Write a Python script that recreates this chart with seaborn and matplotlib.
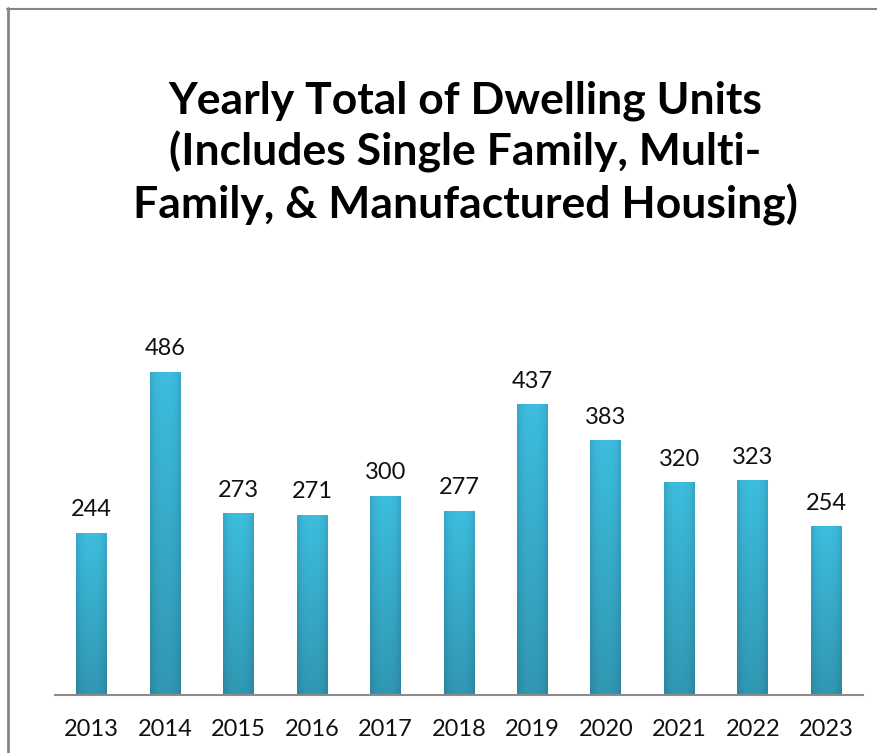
import numpy as np
import pandas as pd
import matplotlib
matplotlib.use("Agg")
import matplotlib.pyplot as plt
import seaborn as sns
from matplotlib.lines import Line2D

years = ["2013", "2014", "2015", "2016", "2017", "2018",
         "2019", "2020", "2021", "2022", "2023"]
units = [244, 486, 273, 271, 300, 277, 437, 383, 320, 323, 254]

df = pd.DataFrame({"year": years, "units": units})

sns.set_theme(style="white")
plt.rcParams['font.family'] = ['Lato', 'DejaVu Sans']

fig = plt.figure(figsize=(8.78, 7.53), dpi=100)
ax = fig.add_axes([55 / 878, 58 / 753, 808 / 878, 399 / 753])

sns.barplot(data=df, x="year", y="units", color="#38B2D3", width=0.42,
            saturation=1, ax=ax)

# soft gradient on each bar to mimic the bevelled look
xs = np.linspace(0, 1, 64)
side = 1 - 0.12 * (np.abs(xs - 0.5) * 2) ** 3
ys = np.linspace(0, 1, 64)[:, None]
shade = side[None, :] * (0.80 + 0.20 * ys)
base = np.array(matplotlib.colors.to_rgb("#3DBDDF"))
img = np.clip(shade[..., None] * base[None, None, :], 0, 1)
for p in ax.patches:
    x0, w, h = p.get_x(), p.get_width(), p.get_height()
    im = ax.imshow(img, extent=[x0, x0 + w, 0, h], origin="lower",
                   aspect="auto", zorder=p.get_zorder() + 0.1)
    im.set_clip_path(p)
    ax.annotate(f"{int(h)}", (x0 + w / 2, h), xytext=(0, 9),
                textcoords="offset points", ha="center", va="bottom",
                fontsize=17, color="#111111")

ax.set_xlim(-0.5, len(years) - 0.5)
ax.set_ylim(0, 600)
ax.set_xlabel("")
ax.set_ylabel("")
ax.set_yticks([])
ax.tick_params(axis="x", length=0, pad=17, labelsize=17, labelcolor="#111111")
for s in ["top", "right", "left"]:
    ax.spines[s].set_visible(False)
ax.spines["bottom"].set_color("#8C8C8C")
ax.spines["bottom"].set_linewidth(1.5)

fig.text(0.530, 0.797,
         "Yearly Total of Dwelling Units\n(Includes Single Family, Multi-\nFamily, & Manufactured Housing)",
         ha="center", va="center", fontsize=32, fontweight="bold",
         linespacing=1.3, color="#000000")

# outer chart border (left and top only visible)
fig.add_artist(Line2D([8 / 878, 8 / 878], [0, 1 - 8 / 753],
                      transform=fig.transFigure, color="#858585", lw=2))
fig.add_artist(Line2D([7 / 878, 1], [1 - 8.5 / 753, 1 - 8.5 / 753],
                      transform=fig.transFigure, color="#858585", lw=1.5))

fig.savefig("out.png", dpi=100)
